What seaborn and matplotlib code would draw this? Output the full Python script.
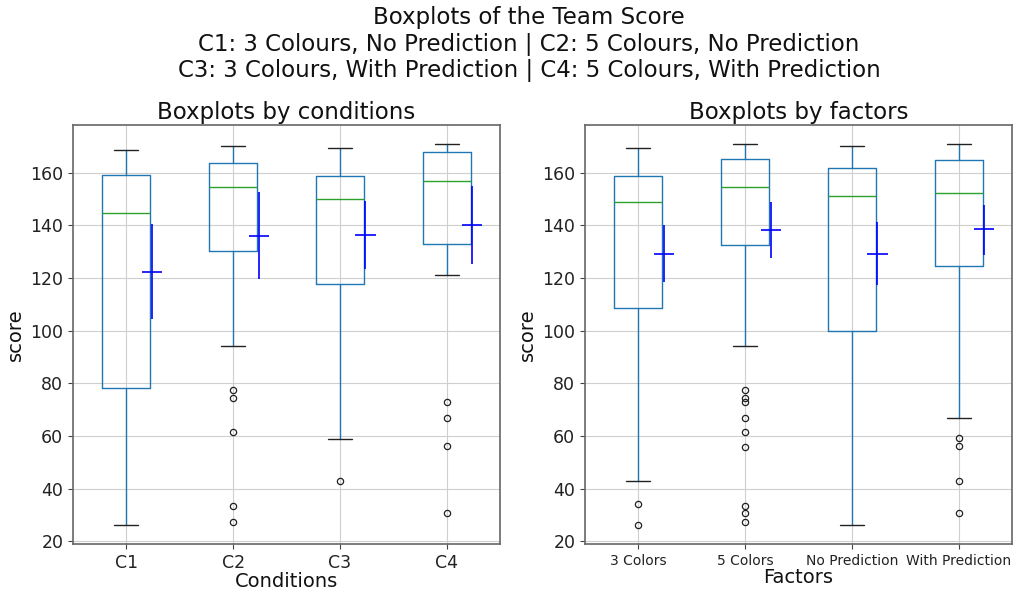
import matplotlib
matplotlib.use("Agg")
import matplotlib.pyplot as plt
import seaborn as sns

# ---------------- data ----------------
conditions = ["C1", "C2", "C3", "C4"]
cond_whislo = [26.2, 94.0, 58.9, 121.1]
cond_q1 = [78.3, 130.2, 117.8, 133.1]
cond_med = [144.8, 154.6, 150.0, 156.7]
cond_q3 = [159.0, 163.7, 158.6, 167.7]
cond_whishi = [168.6, 170.2, 169.2, 170.9]
cond_fliers = [[], [77.3, 74.5, 61.6, 33.3, 27.3], [43.1], [73.0, 66.7, 56.2, 30.6]]
cond_mean = [122.3, 136.0, 136.2, 140.3]
cond_ci_lo = [104.5, 119.5, 123.6, 125.5]
cond_ci_hi = [140.4, 152.6, 149.3, 155.1]

factors = ["3 Colors", "5 Colors", "No Prediction", "With Prediction"]
fac_whislo = [43.1, 94.0, 26.2, 66.7]
fac_q1 = [108.8, 132.6, 99.8, 124.6]
fac_med = [148.9, 154.6, 151.0, 152.3]
fac_q3 = [158.6, 165.3, 161.7, 164.9]
fac_whishi = [169.2, 170.9, 170.2, 170.9]
fac_fliers = [[34.0, 26.2],
              [77.3, 74.5, 73.1, 66.7, 61.6, 56.0, 33.3, 30.6, 27.3],
              [],
              [59.2, 56.3, 43.1, 30.6]]
fac_mean = [129.3, 138.3, 129.3, 138.5]
fac_ci_lo = [118.6, 127.5, 117.5, 128.9]
fac_ci_hi = [140.2, 148.9, 141.2, 147.9]

# ---------------- style ----------------
sns.set_style("ticks", {"axes.grid": True, "grid.color": "#cfcfcf",
                        "axes.edgecolor": "#666666", "xtick.color": "#222222",
                        "ytick.color": "#222222", "text.color": "#111111",
                        "axes.labelcolor": "#111111"})
plt.rcParams["font.family"] = ["DejaVu Sans"]
plt.rcParams["grid.linewidth"] = 0.8
plt.rcParams["xtick.major.size"] = 3.5
plt.rcParams["ytick.major.size"] = 3.5

fig = plt.figure(figsize=(10.14, 5.92), dpi=100)
ax1 = fig.add_axes([73 / 1014, 48 / 592, 427 / 1014, 419 / 592])
ax2 = fig.add_axes([585 / 1014, 48 / 592, 427 / 1014, 419 / 592])


def draw(ax, labels, wlo, q1, med, q3, whi, fl, mean, lo, hi, tick_fs, title, xlabel, xlpad):
    stats = []
    for i, lab in enumerate(labels):
        stats.append(dict(label=lab, whislo=wlo[i], q1=q1[i], med=med[i],
                          q3=q3[i], whishi=whi[i], fliers=fl[i]))
    pos = list(range(1, len(labels) + 1))
    ax.bxp(stats, positions=pos, widths=0.45, patch_artist=False,
           boxprops=dict(color="#1f77b4", linewidth=1.0),
           whiskerprops=dict(color="#1f77b4", linewidth=1.0),
           capprops=dict(color="#222222", linewidth=1.0),
           medianprops=dict(color="#2ca02c", linewidth=1.0),
           flierprops=dict(marker="o", markerfacecolor="none",
                           markeredgecolor="#222222", markersize=4.5,
                           markeredgewidth=0.9))
    xs = [p + 0.24 for p in pos]
    yerr = [[m - l for m, l in zip(mean, lo)], [h - m for m, h in zip(mean, hi)]]
    ax.errorbar(xs, mean, yerr=yerr, xerr=0.095, fmt="none", ecolor="blue",
                elinewidth=1.2, capsize=0, zorder=5)
    ax.set_xlim(0.5, len(labels) + 0.5)
    ax.set_xticks(pos)
    ax.set_xticklabels(labels, fontsize=tick_fs)
    ax.tick_params(axis="y", labelsize=12.5)
    ax.tick_params(color="#444444")
    ax.set_yticks([20, 40, 60, 80, 100, 120, 140, 160])
    ax.grid(True, color="#cfcfcf", linewidth=0.8)
    ax.set_axisbelow(True)
    ax.set_title(title, fontsize=16.5, pad=4)
    ax.set_xlabel(xlabel, fontsize=14, labelpad=xlpad)
    ax.set_ylabel("score", fontsize=14, labelpad=4)
    for s in ax.spines.values():
        s.set_visible(True)
        s.set_linewidth(1.2)
        s.set_color("#666666")


draw(ax1, conditions, cond_whislo, cond_q1, cond_med, cond_q3, cond_whishi,
     cond_fliers, cond_mean, cond_ci_lo, cond_ci_hi, 12.5,
     "Boxplots by conditions", "Conditions", 0)
draw(ax2, factors, fac_whislo, fac_q1, fac_med, fac_q3, fac_whishi,
     fac_fliers, fac_mean, fac_ci_lo, fac_ci_hi, 10,
     "Boxplots by factors", "Factors", 0)

ylo, yhi = 19.0, 178.1
ax1.set_ylim(ylo, yhi)
ax2.set_ylim(ylo, yhi)

fig.suptitle("Boxplots of the Team Score\n"
             "C1: 3 Colours, No Prediction | C2: 5 Colours, No Prediction\n"
             "C3: 3 Colours, With Prediction | C4: 5 Colours, With Prediction",
             x=529 / 1014, y=1 - 6 / 592, va="top", fontsize=16.5,
             linespacing=1.2)

fig.savefig("out.png", dpi=100)
